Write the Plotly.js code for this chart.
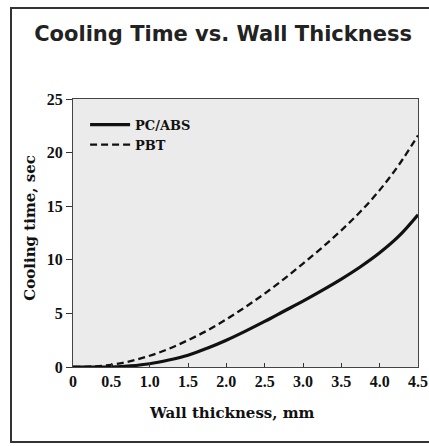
<!DOCTYPE html>
<html>
<head>
<meta charset="utf-8">
<script src="https://cdn.plot.ly/plotly-3.0.1.min.js"></script>
<style>
html,body{margin:0;padding:0;background:#fff;}
#wrap{position:relative;width:429px;height:446px;overflow:hidden;}
#chart{position:absolute;left:0;top:0;width:429px;height:446px;}
#frame{position:absolute;left:10px;top:7px;width:430px;height:432px;border:2px solid #333;pointer-events:none;}
</style>
</head>
<body>
<div id="wrap"><div id="chart"></div><div id="frame"></div></div>
<script>
const thickness = [0,0.25,0.5,0.75,1.0,1.25,1.5,1.75,2.0,2.25,2.5,2.75,3.0,3.25,3.5,3.75,4.0,4.25,4.5];
const pcabs = [0,0,0,0.1,0.3,0.65,1.1,1.75,2.5,3.35,4.25,5.2,6.15,7.15,8.2,9.35,10.65,12.2,14.2];
const pbt = [0,0.05,0.2,0.55,1.05,1.7,2.5,3.4,4.45,5.6,6.85,8.2,9.65,11.15,12.75,14.5,16.5,18.85,21.6];
const xTickVals = [0,0.5,1.0,1.5,2.0,2.5,3.0,3.5,4.0,4.5];
const xTickText = ["0","0.5","1.0","1.5","2.0","2.5","3.0","3.5","4.0","4.5"];
const yTickVals = [0,5,10,15,20,25];
const yTickText = ["0","5","10","15","20","25"];
const xTitle = "Wall thickness, mm";
const yTitle = "Cooling time, sec";

const serifFam = "DejaVu Serif, serif";
const tickFam = "Liberation Serif, Times New Roman, serif";

const data = [
  {x:thickness, y:pcabs, name:"<b>PC/ABS</b>", mode:"lines", line:{color:"#111", width:3.2, shape:"spline"}},
  {x:thickness, y:pbt, name:"<b>PBT</b>", mode:"lines", line:{color:"#111", width:2.3, dash:"7px,4px", shape:"spline"}}
];
const layout = {
  width:429, height:446,
  margin:{l:73, r:11, t:99, b:79},
  paper_bgcolor:"rgba(0,0,0,0)",
  plot_bgcolor:"#ebebeb",
  title:{text:"<b>Cooling Time vs. Wall Thickness</b>", font:{family:"DejaVu Sans", size:21, color:"#222"}, x:0.52, xanchor:"center", y:0.925, yanchor:"middle"},
  showlegend:true,
  legend:{x:0.035, y:0.96, xanchor:"left", yanchor:"top", bgcolor:"rgba(0,0,0,0)",
    font:{family:serifFam, size:13, color:"#111"}, tracegroupgap:0, itemwidth:40},
  xaxis:{range:[0,4.5], tickvals:xTickVals, ticktext:xTickText.map(t=>"<b>"+t+"</b>"), ticks:"inside", ticklen:4, tickcolor:"#333",
    showgrid:false, zeroline:false, showline:true, linecolor:"#444", linewidth:1, mirror:true,
    ticklabeloverflow:"allow",
    tickfont:{family:tickFam, size:16, color:"#111"}},
  yaxis:{range:[0,25], tickvals:yTickVals, ticktext:yTickText.map(t=>"<b>"+t+"</b>"), ticks:"outside", ticklen:6, tickcolor:"#333",
    showgrid:false, zeroline:false, showline:true, linecolor:"#444", linewidth:1, mirror:true,
    tickfont:{family:tickFam, size:16, color:"#111"}},
  annotations:[
    {text:"<b>"+xTitle+"</b>", xref:"paper", yref:"paper", x:0.461, y:0, yshift:-46, xanchor:"center", yanchor:"middle",
      showarrow:false, font:{family:serifFam, size:15, color:"#111"}},
    {text:"<b>"+yTitle+"</b>", xref:"paper", yref:"paper", x:0, y:0.52, xshift:-43, xanchor:"center", yanchor:"middle",
      textangle:-90, showarrow:false, font:{family:serifFam, size:15, color:"#111"}}
  ]
};
Plotly.newPlot("chart", data, layout, {displayModeBar:false, staticPlot:true});
</script>
</body>
</html>
